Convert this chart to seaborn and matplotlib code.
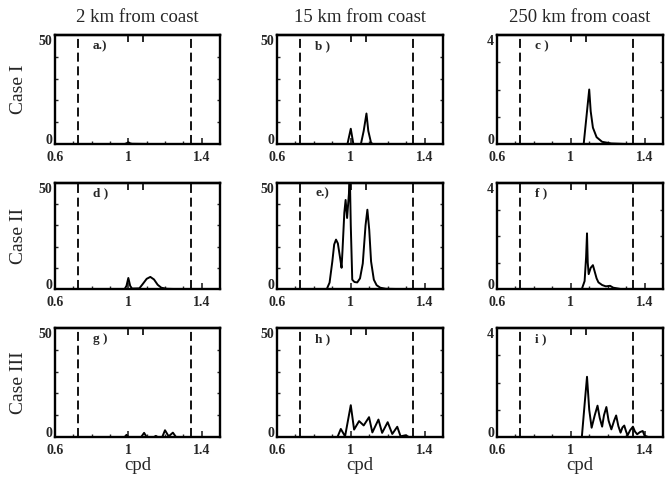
import matplotlib
matplotlib.use("Agg")
import matplotlib.pyplot as plt
import seaborn as sns
from matplotlib.ticker import FixedLocator, NullFormatter

# Spectral amplitude vs. frequency (cpd) for three cases at three distances
col_titles = ["2 km from coast", "15 km from coast", "250 km from coast"]
row_titles = ["Case I", "Case II", "Case III"]
panel_tags = ["a.)", "b )", "c )", "d )", "e.)", "f )", "g )", "h )", "i )"]
y_max = [50, 50, 4]
band_edges = [0.727, 1.34]

# Case I
freq_a = [0.60, 0.98, 0.99, 1.00, 1.01, 1.02, 1.12, 1.50]
amp_a = [0.0, 0.0, 0.3, 0.8, 0.3, 0.1, 0.0, 0.0]
freq_b = [0.60, 0.982, 1.00, 1.014, 1.055, 1.07, 1.085, 1.095, 1.11, 1.12, 1.50]
amp_b = [0.0, 0.0, 7.0, 0.0, 0.0, 6.0, 14.0, 6.0, 0.5, 0.0, 0.0]
freq_c = [0.60, 1.07, 1.085, 1.10, 1.108, 1.12, 1.14, 1.17, 1.22, 1.30, 1.50]
amp_c = [0.0, 0.0, 1.0, 2.0, 1.2, 0.6, 0.25, 0.08, 0.02, 0.0, 0.0]

# Case II
freq_d = [0.60, 0.98, 0.99, 1.00, 1.01, 1.02, 1.06, 1.08, 1.10, 1.12, 1.14,
          1.16, 1.18, 1.21, 1.25, 1.50]
amp_d = [0.0, 0.0, 1.5, 5.2, 1.5, 0.2, 0.3, 2.5, 4.8, 5.7, 4.5,
         2.0, 0.6, 0.1, 0.0, 0.0]
freq_e = [0.60, 0.87, 0.885, 0.90, 0.91, 0.92, 0.93, 0.945, 0.95, 0.955,
          0.965, 0.972, 0.98, 0.99, 0.994, 1.00, 1.008, 1.02, 1.035, 1.05,
          1.065, 1.08, 1.09, 1.10, 1.11, 1.125, 1.14, 1.16, 1.19, 1.25, 1.50]
amp_e = [0.0, 0.0, 3.0, 13.0, 21.0, 23.3, 21.5, 13.0, 10.0, 18.0,
         36.0, 42.0, 33.5, 45.0, 58.0, 30.0, 4.4, 3.3, 3.1, 5.0,
         12.0, 30.0, 37.4, 28.0, 13.0, 4.4, 1.8, 0.6, 0.1, 0.0, 0.0]
freq_f = [0.60, 1.06, 1.075, 1.083, 1.088, 1.092, 1.097, 1.108, 1.12, 1.13,
          1.14, 1.15, 1.17, 1.19, 1.213, 1.23, 1.27, 1.50]
amp_f = [0.0, 0.0, 0.3, 1.2, 2.1, 1.0, 0.56, 0.8, 0.9, 0.65,
         0.4, 0.25, 0.15, 0.1, 0.12, 0.05, 0.0, 0.0]

# Case III
freq_g = [0.60, 0.98, 0.99, 1.00, 1.07, 1.086, 1.10, 1.14, 1.15, 1.16,
          1.185, 1.20, 1.22, 1.243, 1.26, 1.50]
amp_g = [0.0, 0.0, 1.0, 0.0, 0.0, 1.9, 0.0, 0.0, 0.5, 0.0,
         0.0, 3.1, 0.3, 2.0, 0.0, 0.0]
freq_h = [0.60, 0.928, 0.946, 0.969, 1.00, 1.018, 1.045, 1.07, 1.099, 1.117,
          1.15, 1.17, 1.20, 1.225, 1.252, 1.27, 1.297, 1.315, 1.50]
amp_h = [0.0, 0.0, 3.7, 0.3, 14.6, 3.4, 7.3, 5.3, 9.1, 2.1,
         8.0, 1.9, 6.8, 1.4, 4.7, 0.3, 0.8, 0.0, 0.0]
freq_i = [0.60, 1.06, 1.075, 1.088, 1.10, 1.113, 1.13, 1.145, 1.157, 1.17,
          1.18, 1.193, 1.205, 1.22, 1.235, 1.246, 1.258, 1.27, 1.28, 1.29,
          1.30, 1.308, 1.322, 1.337, 1.348, 1.36, 1.375, 1.39, 1.40, 1.42, 1.50]
amp_i = [0.0, 0.0, 1.2, 2.21, 1.0, 0.34, 0.8, 1.15, 0.7, 0.38,
         0.8, 1.1, 0.6, 0.28, 0.6, 0.79, 0.4, 0.16, 0.35, 0.42,
         0.2, 0.06, 0.25, 0.38, 0.2, 0.1, 0.18, 0.22, 0.05, 0.0, 0.0]

series = [(freq_a, amp_a), (freq_b, amp_b), (freq_c, amp_c),
          (freq_d, amp_d), (freq_e, amp_e), (freq_f, amp_f),
          (freq_g, amp_g), (freq_h, amp_h), (freq_i, amp_i)]

sns.set_theme(style="ticks")
plt.rcParams["font.family"] = ["Liberation Serif", "DejaVu Serif"]

W, H = 669, 478
fig = plt.figure(figsize=(W / 100, H / 100), dpi=100)

col_left = [55, 277, 497]
col_width = [165, 166, 166]
row_top = [35, 183, 328]
row_bottom = [144, 289, 437]

for r in range(3):
    for c in range(3):
        k = 3 * r + c
        ax = fig.add_axes([col_left[c] / W, 1 - row_bottom[r] / H,
                           col_width[c] / W, (row_bottom[r] - row_top[r]) / H])
        fx, ay = series[k]
        sns.lineplot(x=fx, y=ay, ax=ax, color="black", linewidth=1.4,
                     estimator=None, sort=False)
        for e in band_edges:
            ax.axvline(e, color="black", linewidth=1.3, linestyle=(0, (5, 2.6)))
        ax.set_xlim(0.6, 1.5)
        ax.set_ylim(0, y_max[c])
        ax.set_xticks([0.6, 1.0, 1.4])
        ax.set_xticklabels(["0.6", "1", "1.4"])
        ax.xaxis.set_minor_locator(FixedLocator([0.7, 0.8, 0.9, 1.1, 1.2, 1.3]))
        ax.set_yticks([0, y_max[c]])
        ax.set_yticklabels(["0", str(y_max[c])])
        ym = [10, 20, 30, 40] if y_max[c] == 50 else [1, 2, 3]
        ax.yaxis.set_minor_locator(FixedLocator(ym))
        ax.tick_params(which="major", direction="in", length=4, width=1.2,
                       labelsize=10, right=True)
        ax.tick_params(axis="x", which="major", pad=5)
        ax.tick_params(axis="y", which="major", pad=2)
        ax.tick_params(which="minor", direction="in", length=2.5, width=1.0,
                       right=True)
        for lab in ax.get_xticklabels() + ax.get_yticklabels():
            lab.set_fontweight("bold")
        ylabs = ax.get_yticklabels()
        ylabs[0].set_verticalalignment("baseline")
        ylabs[1].set_verticalalignment("top")
        top = ax.secondary_xaxis("top")
        top.set_xticks([1.0, 1.08])
        top.xaxis.set_major_formatter(NullFormatter())
        top.tick_params(direction="in", length=5, width=1.4)
        for s in ax.spines.values():
            s.set_linewidth(1.7)
            s.set_color("black")
        top.spines["top"].set_linewidth(1.7)
        ax.text(0.23, 0.9, panel_tags[k], transform=ax.transAxes,
                fontsize=9.5, fontweight="bold", va="center", ha="left")
        if r == 0:
            ax.set_title(col_titles[c], fontsize=13.5, pad=9)
        if c == 0:
            ax.set_ylabel(row_titles[r], fontsize=14, labelpad=8)
        else:
            ax.set_ylabel("")
        if r == 2:
            ax.set_xlabel("cpd", fontsize=13.5, labelpad=0)
        else:
            ax.set_xlabel("")

fig.savefig("out.png", dpi=100)
